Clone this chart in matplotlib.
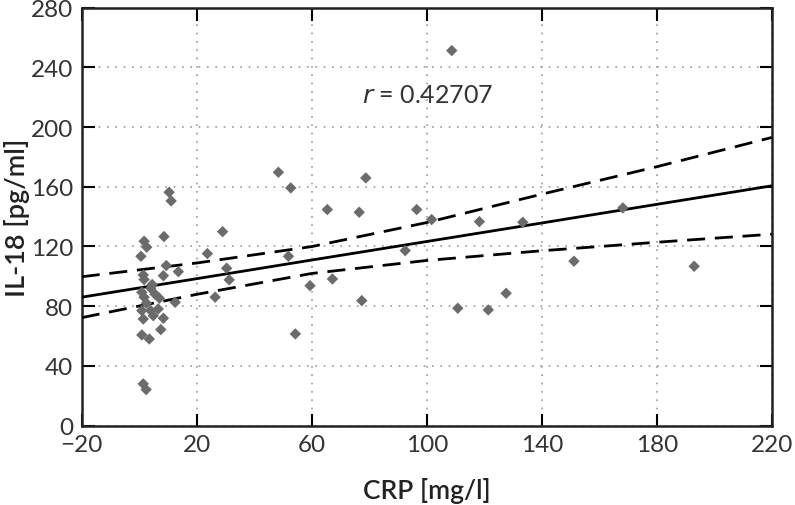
import matplotlib.pyplot as plt

# CRP [mg/l] vs IL-18 [pg/ml]
crp = [10.4, 11.1, 8.6, 1.7, 2.6, 0.6, 9.4, 13.6, 8.4, 1.4,
       1.7, 4.5, 4.0, 0.9, 1.7, 7.0, 12.5, 0.9, 4.0, 6.6,
       1.4, 4.9, 8.4, 0.9, 7.5, 3.5, 1.4, 2.4, 2.5, 5.5,
       48.4, 52.7, 29.0, 23.7, 51.9, 30.4, 31.3, 26.4, 54.3, 65.4,
       76.5, 78.8, 96.5, 101.7, 92.5, 59.4, 67.2, 77.4, 108.7, 118.3,
       133.4, 168.2, 151.2, 193.0, 110.8, 121.4, 127.6]
il18 = [156.3, 150.5, 126.6, 123.5, 119.5, 113.4, 107.2, 103.1, 100.4, 100.9,
        97.8, 94.5, 92.0, 89.3, 86.0, 85.3, 82.6, 77.0, 77.0, 78.1,
        71.4, 73.6, 71.9, 60.7, 64.3, 58.0, 27.9, 24.1, 82.0, 88.0,
        169.7, 159.2, 129.9, 115.2, 113.4, 105.4, 97.6, 86.0, 61.4, 144.7,
        142.9, 165.9, 144.7, 138.0, 117.2, 93.7, 98.2, 83.7, 251.2, 136.6,
        136.2, 145.8, 110.1, 106.7, 78.6, 77.5, 88.6]

# regression line and confidence band, read at the x tick positions
line_x = [-20, 20, 60, 100, 140, 180, 220]
fit_y = [86.0, 98.4, 110.9, 123.3, 135.7, 148.2, 160.6]
upper_y = [99.7, 108.9, 119.9, 136.0, 155.0, 173.4, 193.0]
lower_y = [72.3, 87.9, 101.9, 110.6, 117.1, 122.8, 128.2]

x_ticks = [-20, 20, 60, 100, 140, 180, 220]
y_ticks = [0, 40, 80, 120, 160, 200, 240, 280]
r_label = "0.42707"

plt.rcParams['font.family'] = ['Lato', 'DejaVu Sans']

fig = plt.figure(figsize=(7.95, 5.06), dpi=100)
ax = fig.add_axes([0.1028, 0.157, 0.868, 0.826])

ax.grid(True, linestyle=(0, (1, 4)), color='#999999', linewidth=1.2)
ax.set_axisbelow(True)

ax.plot(line_x, fit_y, color='black', linewidth=2, zorder=3)
ax.plot(line_x, upper_y, color='black', linewidth=2, dashes=(6.5, 3.5), zorder=3)
ax.plot(line_x, lower_y, color='black', linewidth=2, dashes=(6.5, 3.5), zorder=3)

ax.scatter(crp, il18, marker='D', s=34, color='#6b6b6b', edgecolors='none', zorder=4)

ax.text(77.5, 222, r"$\mathit{r}$ = " + r_label, fontsize=18, color='#333333',
        va='center', ha='left')

ax.set_xlim(-20, 220)
ax.set_ylim(0, 280)
ax.set_xticks(x_ticks)
ax.set_yticks(y_ticks)
ax.tick_params(direction='in', length=9, width=1.5, top=True, right=True,
               labelsize=17.5, labelcolor='#333333', pad=6)
for s in ax.spines.values():
    s.set_linewidth(1.8)
    s.set_color('#222222')

ax.set_xlabel("CRP [mg/l]", fontsize=19, fontweight='semibold', color='#222222', labelpad=16)
ax.set_ylabel("IL-18 [pg/ml]", fontsize=19.5, fontweight='semibold', color='#222222', labelpad=1)

fig.savefig("out.png", dpi=100)
